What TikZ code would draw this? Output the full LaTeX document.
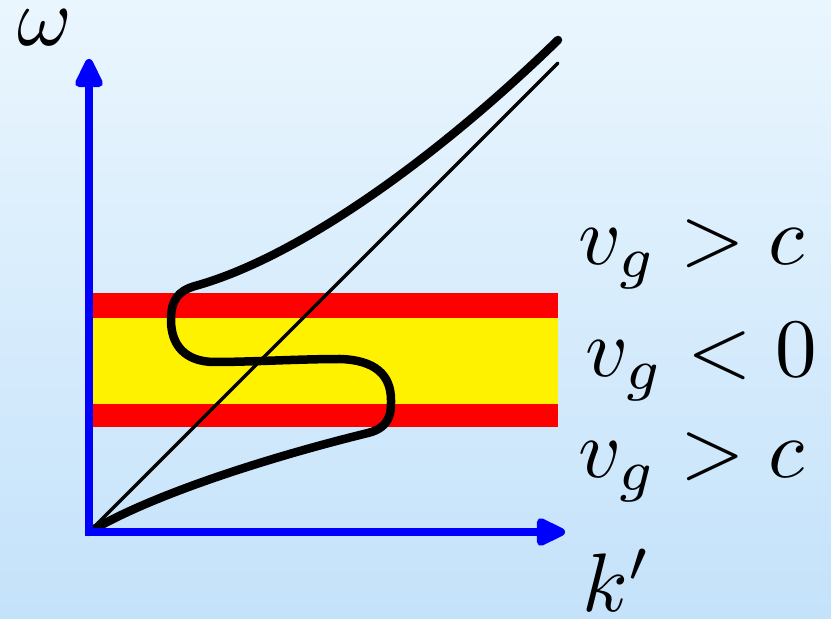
\documentclass[tikz,border=0pt]{standalone}
\usetikzlibrary{arrows.meta}
\definecolor{bgtop}{RGB}{234,246,254}
\definecolor{bgbot}{RGB}{196,226,250}
\tikzset{
  axis/.style={draw=blue, line width=8pt, -{Triangle[length=34pt,width=30pt,round]}},
  lbl/.style={inner sep=0pt, scale=8.3, anchor=base west},
  curve/.style={draw=black, line width=8.5pt, line cap=round, line join=round},
  asym/.style={draw=black, line width=3.3pt, line cap=round}
}
\begin{document}
\begin{tikzpicture}[x=1pt,y=1pt]
\shade[top color=bgtop, bottom color=bgbot] (0,0) rectangle (831,619);
\useasboundingbox (0,0) rectangle (831,619);
% bands
\fill[red] (89,192) rectangle (558,326);
\fill[yellow] (89,215) rectangle (558,301);
% coordinates
\coordinate (O) at (89,87);
\coordinate (ytip) at (89,560);
\coordinate (xtip) at (565,87);
\coordinate (lend) at (558,556);
% thin line
\draw[asym] (O) -- (lend);
% thick curve
\draw[curve] (O) .. controls (160,129) and (290,167) .. (368,186)
  .. controls (392,192) and (391,209) .. (391,219)
  .. controls (391,244) and (375,259) .. (340,260)
  .. controls (300,260) and (250,257) .. (215,257)
  .. controls (185,257) and (171,274) .. (171,299)
  .. controls (171,319) and (178,328) .. (195,333)
  .. controls (300,362) and (440,464) .. (558,579);
% axes
\draw[axis] (89,83) -- (ytip);
\draw[axis] (85,87) -- (xtip);
% labels
\node[lbl] (w) at (16,573) {$\omega$};
\node[lbl] (k) at (581,7) {$k'$};
\node[lbl] (l1) at (577,354) {$v_g > c$};
\node[lbl] (l2) at (584,242) {$v_g < 0$};
\node[lbl] (l3) at (577,141) {$v_g > c$};
\end{tikzpicture}
\end{document}
